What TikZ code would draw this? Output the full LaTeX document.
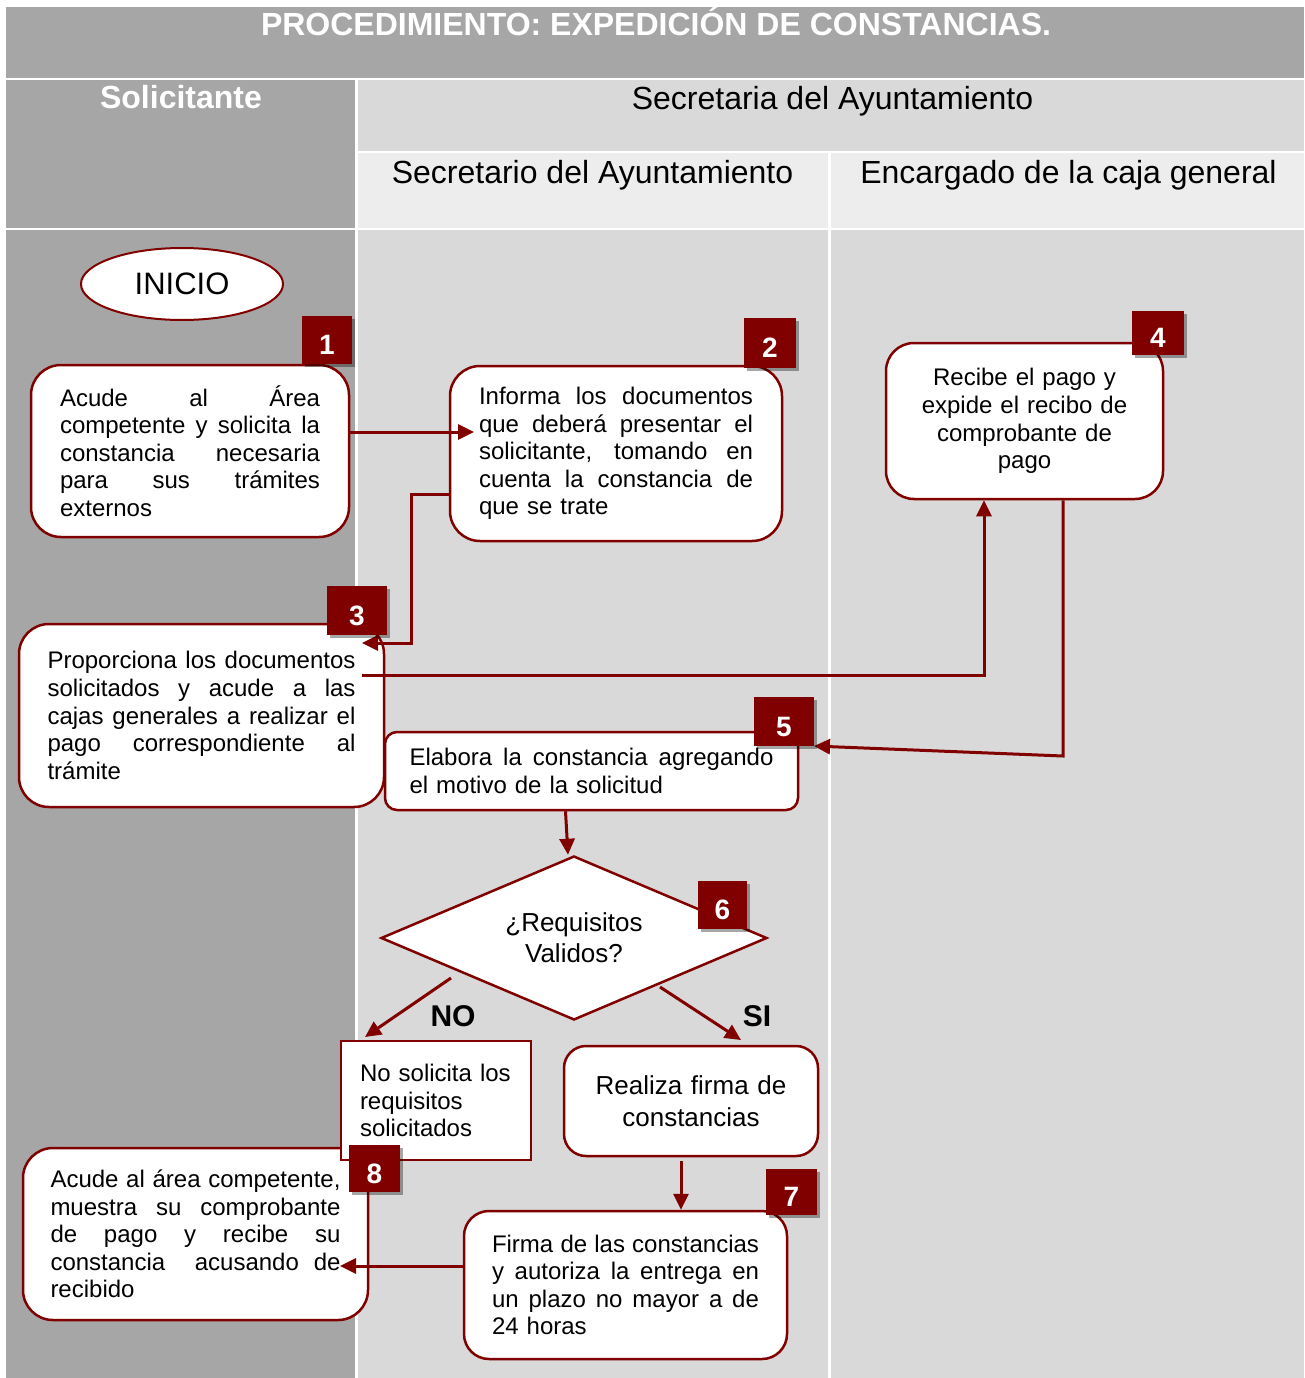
\documentclass[tikz,border=0pt]{standalone}
\usepackage{fontspec}
\setmainfont{Liberation Sans}
\usetikzlibrary{arrows.meta,shapes.geometric,shadows}
\definecolor{dred}{RGB}{128,0,0}
\definecolor{grayA}{RGB}{166,166,166}
\definecolor{grayD}{RGB}{217,217,217}
\definecolor{grayE}{RGB}{237,237,237}
\newcommand{\jl}[1]{\makebox[\hsize][s]{\spaceskip=0pt\xspaceskip=0pt #1}\\}
\begin{document}
\begin{tikzpicture}[x=1pt,y=-1pt,
  box/.style={draw=dred, line width=2.5pt, fill=white, rounded corners=30pt, inner sep=0pt},
  txt/.style={font=\fontsize{24}{27.6}\selectfont, align=left},
  ctxt/.style={font=\fontsize{24}{27.6}\selectfont, align=center},
  badge/.style={fill=dred, text=white, font=\fontsize{28}{28}\selectfont\bfseries, inner sep=0pt,
    text height=29pt, text depth=0pt,
    drop shadow={shadow xshift=3pt,shadow yshift=-3pt,opacity=0.35,fill=black}},
  arr/.style={draw=dred, line width=3pt, -{Triangle[length=16pt,width=15pt]}},
  hdr/.style={anchor=base, font=\fontsize{32}{32}\selectfont}]
\useasboundingbox (0,0) rectangle (1304,1378);
\fill[white] (0,0) rectangle (1304,1378);
% table
\fill[grayA] (6,7) rectangle (1304,78);
\fill[grayA] (6,80) rectangle (355,228);
\fill[grayD] (358,80) rectangle (1304,151);
\fill[grayE] (358,153) rectangle (828,228);
\fill[grayE] (831,153) rectangle (1304,228);
\fill[grayA] (6,230) rectangle (355,1378);
\fill[grayD] (358,230) rectangle (828,1378);
\fill[grayD] (831,230) rectangle (1304,1378);
\node[hdr, text=white, font=\fontsize{32}{32}\selectfont\bfseries] (title) at (656,36) {PROCEDIMIENTO: EXPEDICIÓN DE CONSTANCIAS.};
\node[hdr, text=white, font=\fontsize{32}{32}\selectfont\bfseries] (hsol) at (181,109) {Solicitante};
\node[hdr] (hsec) at (832.5,110) {Secretaria del Ayuntamiento};
\node[hdr] (hsecr) at (592.5,183) {Secretario del Ayuntamiento};
\node[hdr] (hcaja) at (1068.5,183) {Encargado de la caja general};
% nodes
\node[ellipse, draw=dred, line width=2pt, fill=white, minimum width=202pt, minimum height=72pt, inner sep=0pt,
  font=\fontsize{31}{31}\selectfont] (inicio) at (182,284) {INICIO};
\node[box, txt, minimum width=318pt, minimum height=172pt, text width=260pt] (b1) at (190,451)
  {\jl{Acude al Área}\jl{competente y solicita la}\jl{constancia necesaria}\jl{para sus trámites}externos};
\node[box, txt, minimum width=332pt, minimum height=175pt, text width=274pt] (b2) at (616,453.5)
  {\jl{Informa los documentos}\jl{que deberá presentar el}\jl{solicitante, tomando en}\jl{cuenta la constancia de}que se trate};
\node[box, ctxt, rounded corners=28pt, minimum width=277pt, minimum height=156pt, text width=240pt] (b4) at (1024.5,421)
  {Recibe el pago y\\expide el recibo de\\comprobante de\\pago};
\node[box, txt, minimum width=365pt, minimum height=183pt, text width=308pt] (b3) at (201.5,715.5)
  {\jl{Proporciona los documentos}\jl{solicitados y acude a las}\jl{cajas generales a realizar el}\jl{pago correspondiente al}trámite};
\node[box, txt, rounded corners=12pt, minimum width=413pt, minimum height=78pt, text width=364pt] (b5) at (591.5,771)
  {\jl{Elabora la constancia agregando}el motivo de la solicitud};
\node[diamond, draw=dred, line width=2.5pt, fill=white, aspect=2.35, minimum width=386pt, minimum height=164pt, inner sep=0pt,
  align=center, font=\fontsize{26}{31}\selectfont] (dia) at (574,938) {¿Requisitos\\Validos?};
\node[box, ctxt, rounded corners=22pt, minimum width=254pt, minimum height=110pt, text width=230pt,
  font=\fontsize{26}{32}\selectfont] (rz) at (691,1101) {Realiza firma de\\constancias};
\node[box, txt, rounded corners=25pt, minimum width=323pt, minimum height=148pt, text width=267pt] (b7) at (625.5,1285)
  {\jl{Firma de las constancias}\jl{y autoriza la entrega en}\jl{un plazo no mayor a de}24 horas};
\node[box, txt, minimum width=345pt, minimum height=172pt, text width=290pt] (b8) at (195.5,1234)
  {\jl{Acude al área competente,}\jl{muestra su comprobante}\jl{de pago y recibe su}\jl{constancia \ acusando de}recibido};
\node[box, txt, rounded corners=0pt, minimum width=190pt, minimum height=119pt, text width=152pt] (nob) at (436,1100.5)
  {No solicita los\\requisitos\\solicitados};
\node[font=\fontsize{30}{30}\selectfont\bfseries] (lno) at (453,1016) {NO};
\node[font=\fontsize{30}{30}\selectfont\bfseries] (lsi) at (757,1016) {SI};
% connectors
\coordinate (t12) at (474,432);
\coordinate (j23) at (411,494);
\coordinate (t23) at (362,643);
\coordinate (s34) at (362,675);
\coordinate (c45) at (1063,756);
\coordinate (t45) at (814,746);
\coordinate (sno) at (451,978);
\coordinate (tno) at (365,1037);
\coordinate (ssi) at (660,987);
\coordinate (tsi) at (741,1040);
\coordinate (t78) at (340,1266);
\draw[arr] (b1.east |- t12) -- (t12);
\draw[arr] (b2.west |- j23) -- (j23) |- (t23);
\draw[arr] (s34) -| ([xshift=-40.5pt]b4.south);
\draw[arr] ([xshift=38.5pt]b4.south) -- (c45) -- (t45);
\draw[arr] ([xshift=-26pt]b5.south) -- ([xshift=-6pt]dia.north);
\draw[arr] (sno) -- (tno);
\draw[arr] (ssi) -- (tsi);
\draw[arr] ([shift={(-10pt,-4pt)}]rz.south) -- ([xshift=55.5pt]b7.north);
\draw[arr] (b7.west |- t78) -- (t78);
% badges
\node[badge, minimum width=50pt, minimum height=48pt] (n1) at (327,340) {1};
\node[badge, minimum width=52pt, minimum height=50pt] (n2) at (770,343) {2};
\node[badge, minimum width=60pt, minimum height=49pt] (n3) at (357,610.5) {3};
\node[badge, minimum width=52pt, minimum height=44pt] (n4) at (1158,333) {4};
\node[badge, minimum width=60pt, minimum height=49pt] (n5) at (784,721.5) {5};
\node[badge, minimum width=49pt, minimum height=48pt] (n6) at (722.5,905) {6};
\node[badge, minimum width=51pt, minimum height=46pt] (n7) at (791.5,1192) {7};
\node[badge, minimum width=51pt, minimum height=47pt] (n8) at (374.5,1168.5) {8};
\end{tikzpicture}
\end{document}
